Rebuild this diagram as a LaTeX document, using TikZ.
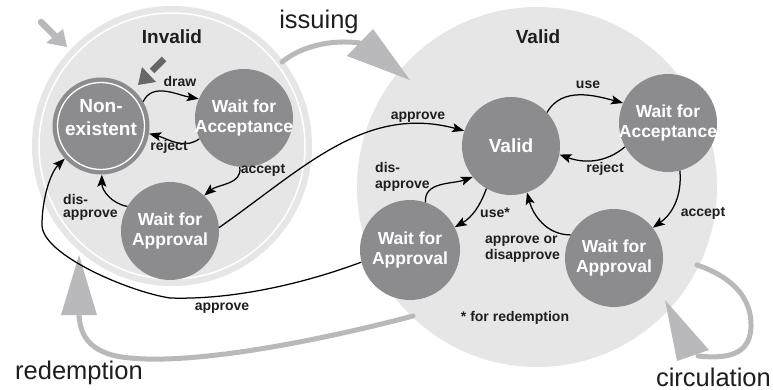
\documentclass[tikz,border=0pt]{standalone}
\usepackage{fontspec}
\setmainfont{Liberation Sans}
\usetikzlibrary{arrows.meta}
\definecolor{bigfill}{HTML}{E6E6E7}
\definecolor{nodefill}{HTML}{8C8C8F}
\definecolor{greyarrow}{HTML}{B9B9BB}
\definecolor{darkarrow}{HTML}{67676A}
\definecolor{txt}{HTML}{1E1E1E}
\begin{document}
\begin{tikzpicture}[x=1pt,y=1pt,
  bigc/.style={circle, fill=bigfill, inner sep=0pt},
  state/.style={circle, fill=nodefill, inner sep=0pt},
  stxt/.style={text=white, font=\fontsize{17.5}{20.5}\selectfont\bfseries, align=center, inner sep=0pt},
  lbl/.style={text=txt, font=\fontsize{14}{16}\selectfont\bfseries, inner sep=0pt},
  lbll/.style={lbl, align=left, anchor=west},
  title/.style={text=txt, font=\fontsize{19}{22}\selectfont\bfseries, inner sep=0pt},
  bigword/.style={text=txt, font=\fontsize{25.5}{30}\selectfont, inner sep=0pt},
  conn/.style={draw=black, line width=1.25pt, -{Stealth[length=12pt,width=9pt,inset=2.5pt]}},
  greyline/.style={draw=greyarrow, line width=5pt, line cap=round}
]
\useasboundingbox (0,0) rectangle (773,-390);
\fill[white] (0,0) rectangle (773,-390);

% big regions
\node[bigc, minimum size=280pt] (INV) at (172,-146) {};
\draw[white, line width=1.5pt] (INV.center) circle (133);
\node[bigc, minimum size=360pt] (VAL) at (537,-187) {};

% grey process arrows
\draw[greyline] (282,-62) .. controls (300,-47) and (330,-39) .. (360,-43);
\fill[greyarrow] (347,-56) -- (373,-29) -- (410,-80) -- cycle;
\node[bigword] (issuing) at (319,-22) {issuing};

\draw[greyline] (413,-316) .. controls (330,-338) and (200,-365) .. (130,-358)
   .. controls (95,-355) and (79,-340) .. (79,-312);
\fill[greyarrow] (61,-315) -- (97,-315) -- (79,-255) -- cycle;
\node[bigword] (redemption) at (79,-373) {redemption};

\draw[greyline] (697,-265) .. controls (735,-278) and (752,-300) .. (751,-327)
   .. controls (750,-350) and (735,-360) .. (698,-356);
\fill[greyarrow] (677,-361) -- (709,-350) -- (665,-300) -- cycle;
\node[bigword, anchor=east] (circulation) at (771,-377) {circulation};

% initial arrows
\draw[greyline, line width=6.5pt] (41,-22) -- (56,-37);
\fill[greyarrow] (46,-43) -- (63,-29) -- (67,-47) -- cycle;

% titles
\node[title] (tinv) at (172,-37) {Invalid};
\node[title] (tval) at (538,-37) {Valid};

% states: invalid side
\node[state, minimum size=97pt] (NE) at (101,-126) {};
\draw[white, line width=1.3pt] (NE.center) circle (43.5);
\node[stxt, font=\fontsize{19}{23}\selectfont\bfseries] (NEt) at (101,-118) {Non-\\existent};
\draw[darkarrow, line width=6.5pt] (164,-59) -- (152,-71);
\fill[darkarrow] (142,-67) -- (156,-82) -- (138,-85) -- cycle;

\node[state, minimum size=98pt] (IWA) at (244,-118) {};
\node[stxt] (IWAt) at (IWA) {Wait for\\Acceptance};
\node[state, minimum size=98pt] (IWP) at (170,-231) {};
\node[stxt] (IWPt) at (IWP) {Wait for\\Approval};

% states: valid side
\node[state, minimum size=98pt] (V) at (511,-146) {};
\node[stxt, font=\fontsize{19}{22}\selectfont\bfseries] (Vt) at (V) {Valid};
\node[state, minimum size=98pt] (VWA) at (668,-123) {};
\node[stxt] (VWAt) at (VWA) {Wait for\\Acceptance};
\node[state, minimum size=100pt] (VWPL) at (410,-250) {};
\node[stxt] (VWPLt) at (VWPL) {Wait for\\Approval};
\node[state, minimum size=98pt] (VWPR) at (614,-258) {};
\node[stxt] (VWPRt) at (VWPR) {Wait for\\Approval};

% connectors: invalid side
\draw[conn] (NE.30) to[out=65,in=170] (IWA.157);
\node[lbl] (ldraw) at (180,-81) {draw};
\draw[conn] (IWA.205) to[out=215,in=-15] (NE.-9);
\node[lbl] (lrej1) at (169,-147) {reject};
\draw[conn] (IWA.265) to[out=-80,in=40] (IWP.46);
\node[lbl] (lacc1) at (263,-170) {accept};
\draw[conn] (IWP.150) to[out=170,in=-90] (NE.-89);
\node[lbll] (ldis1) at (63,-207) {dis-\\[-3pt]approve};

% long connectors
\draw[conn] (IWP.4) to[out=35,in=165] (V.162);
\node[lbl] (lapp1) at (418,-117) {approve};
\draw[conn] (VWPL.194) .. controls (300,-285) and (230,-300) .. (170,-298)
   .. controls (130,-292) and (42,-255) .. (42,-225)
   .. controls (42,-200) and (50,-173) .. (NE.222);
\node[lbl] (lapp2) at (222,-308) {approve};

% connectors: valid side
\draw[conn] (V.43) to[out=60,in=165] (VWA.156);
\node[lbl] (luse) at (588,-85) {use};
\draw[conn] (VWA.209) to[out=220,in=-20] (V.-10);
\node[lbl] (lrej2) at (605,-169) {reject};
\draw[conn] (VWA.284) to[out=-85,in=35] (VWPR.38);
\node[lbl] (lacc2) at (703,-213) {accept};
\draw[conn] (V.240) to[out=-110,in=30] (VWPL.27);
\node[lbl] (luses) at (495,-213) {use*};
\draw[conn] (VWPL.72) to[out=95,in=200] (V.219);
\node[lbll] (ldis2) at (375,-177) {dis-\\approve};
\draw[conn] (VWPR.152) to[out=180,in=-75] (V.289);
\node[lbll] (lappdis) at (485,-249) {approve or\\disapprove};
\node[lbl] (lnote) at (515,-318) {* for redemption};
\end{tikzpicture}
\end{document}
